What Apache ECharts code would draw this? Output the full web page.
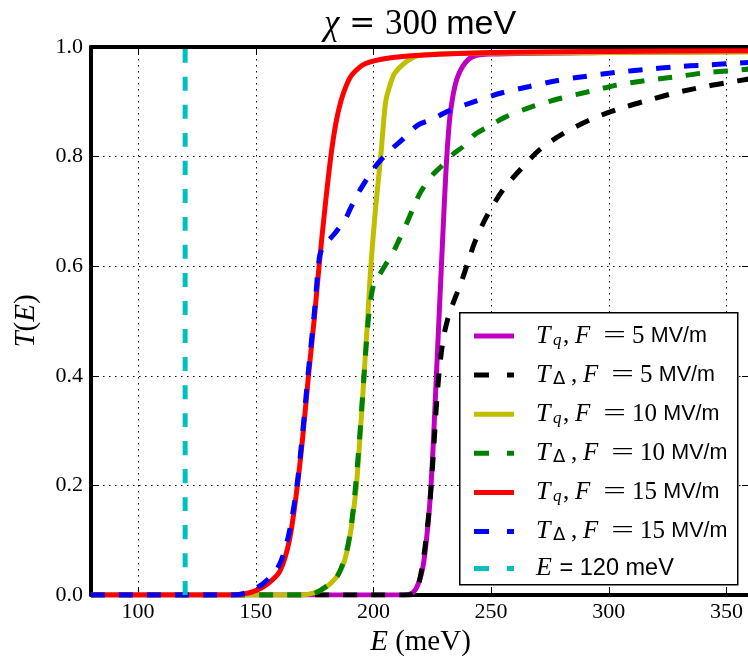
<!DOCTYPE html>
<html><head><meta charset="utf-8">
<script src="https://cdn.jsdelivr.net/npm/echarts@6/dist/echarts.min.js"></script>
<style>html,body{margin:0;padding:0;background:#fff}#c{width:748px;height:656px}</style>
</head><body><div id="c"></div>
<script>
// ---- data ----
const xTicks = [100, 150, 200, 250, 300, 350];
const yTicks = [0.0, 0.2, 0.4, 0.6, 0.8, 1.0];

const seriesNames = ['Tq5', 'Td5', 'Tq10', 'Td10', 'Tq15', 'Td15', 'E120'];

const tqF5E = [80, 210, 215, 217, 219, 221, 222.5, 224, 225.3, 226.7, 228.1, 229.5, 230.9, 232, 233, 235, 238, 242, 250, 300, 360];
const tqF5T = [0, 0, 0.001, 0.005, 0.02, 0.05, 0.1, 0.17, 0.265, 0.396, 0.527, 0.658, 0.78, 0.85, 0.89, 0.935, 0.965, 0.982, 0.987, 0.99, 0.992];

const tdF5E = [80, 215, 218, 220, 222, 224, 225.5, 227, 228.5, 230, 232, 234.5, 237, 240, 243, 248, 255, 263, 271, 281, 293, 305, 316, 328, 341, 352, 360];
const tdF5T = [0, 0, 0.005, 0.035, 0.09, 0.17, 0.26, 0.36, 0.43, 0.475, 0.51, 0.54, 0.567, 0.605, 0.643, 0.69, 0.739, 0.779, 0.814, 0.843, 0.869, 0.888, 0.902, 0.916, 0.928, 0.936, 0.942];

const tqF10E = [80, 170, 173, 176, 179, 182, 185, 187.5, 189, 190.5, 192, 192.8, 194.5, 196, 197.5, 198.9, 201, 203.1, 205.2, 207, 209, 213, 218, 225, 250, 300, 360];
const tqF10T = [0, 0, 0.002, 0.006, 0.012, 0.022, 0.037, 0.06, 0.085, 0.12, 0.17, 0.2, 0.3, 0.4, 0.5, 0.6, 0.71, 0.8, 0.9, 0.93, 0.952, 0.97, 0.983, 0.987, 0.989, 0.99, 0.991];

const tdF10E = [80, 172, 175, 178, 182, 185, 188, 190, 192, 194, 196, 198, 200, 202.4, 205.2, 208, 210.9, 213.7, 217.3, 220, 225, 229, 234, 238, 243, 249, 256, 268, 280, 292, 304, 316, 329, 341, 353, 360];
const tdF10T = [0, 0, 0.003, 0.01, 0.022, 0.037, 0.07, 0.11, 0.18, 0.28, 0.4, 0.51, 0.565, 0.583, 0.603, 0.622, 0.648, 0.674, 0.71, 0.735, 0.766, 0.783, 0.805, 0.818, 0.84, 0.855, 0.872, 0.892, 0.907, 0.919, 0.931, 0.939, 0.946, 0.953, 0.957, 0.96];

const tqF15E = [80, 140, 145, 150, 155, 160.2, 164.3, 167.7, 170, 172.4, 175, 176.9, 179.5, 181.9, 184, 186.1, 188.5, 191, 196.7, 206.7, 220, 250, 300, 360];
const tqF15T = [0, 0, 0.002, 0.008, 0.02, 0.043, 0.1, 0.2, 0.29, 0.4, 0.51, 0.6, 0.71, 0.8, 0.86, 0.9, 0.93, 0.95, 0.97, 0.98, 0.985, 0.99, 0.992, 0.993];

const tdF15E = [80, 140, 145, 150, 155, 160, 164, 167.5, 170, 172.4, 175, 177, 178.5, 180.5, 184, 188.2, 190.4, 193.9, 200.3, 204.5, 208.8, 212.3, 218.7, 225, 231.3, 242.6, 254.3, 266.3, 278.4, 291, 303.8, 315.8, 328.5, 340.5, 352.5, 360];
const tdF15T = [0, 0, 0.003, 0.012, 0.028, 0.055, 0.11, 0.2, 0.3, 0.41, 0.52, 0.615, 0.635, 0.645, 0.662, 0.687, 0.707, 0.736, 0.779, 0.8, 0.818, 0.831, 0.857, 0.868, 0.882, 0.9, 0.916, 0.928, 0.939, 0.947, 0.954, 0.959, 0.964, 0.967, 0.97, 0.972];

const e120E = [120, 120];
const e120T = [0, 1];

const legendTexts = {
  Tq5: '{g|}{i|T}{subi|q}{c|,}{i2|F}{eq|=}{r|5 }{s|MV/m}',
  Td5: '{g|}{i|T}{sub|Δ}{c|,}{i2|F}{eq|=}{r|5 }{s|MV/m}',
  Tq10: '{g|}{i|T}{subi|q}{c|,}{i2|F}{eq|=}{r|10 }{s|MV/m}',
  Td10: '{g|}{i|T}{sub|Δ}{c|,}{i2|F}{eq|=}{r|10 }{s|MV/m}',
  Tq15: '{g|}{i|T}{subi|q}{c|,}{i2|F}{eq|=}{r|15 }{s|MV/m}',
  Td15: '{g|}{i|T}{sub|Δ}{c|,}{i2|F}{eq|=}{r|15 }{s|MV/m}',
  E120: '{g|}{i|E}{s2| = 120 meV}'
};

// ---- chart ----
const pair = (xs, ys) => xs.map((x, i) => [x, ys[i]]);
const SERIF = 'Liberation Serif';
const SANS = 'Liberation Sans';
const SOLID_ICON = 'path://M0,0H40V5H0Z';
const DASH_ICON = 'path://M0,0H15V5H0Z M33,0H40V5H33Z';

function mk(name, xs, ys, color, dashed) {
  return {
    name, type: 'line', data: pair(xs, ys), symbol: 'none',
    smooth: 0.3,
    lineStyle: { color, width: 5, type: dashed ? [14, 14] : 'solid', cap: 'butt' },
    itemStyle: { color },
    emphasis: { disabled: true }, animation: false
  };
}
const dashedSet = { Td5: 1, Td10: 1, Td15: 1, E120: 1 };

const chart = echarts.init(document.getElementById('c'), null, { renderer: 'canvas' });
const tickStyle = { show: true, inside: true, length: 8, lineStyle: { color: '#000', width: 1 } };
const frame = { show: true, onZero: false, lineStyle: { color: '#000', width: 4 } };
const grid = { show: true, lineStyle: { color: '#000', width: 1, type: [1.5, 4.5] } };
const nameRich = {
  i: { fontFamily: SERIF, fontStyle: 'italic', fontSize: 29, color: '#000' },
  r: { fontFamily: SERIF, fontSize: 29, color: '#000' }
};
const LH = 26;
const tok = (o) => Object.assign({ lineHeight: LH, color: '#000', align: 'left' }, o);

chart.setOption({
  animation: false,
  backgroundColor: '#fff',
  grid: { left: 91, top: 47, width: 659, height: 548, containLabel: false, outerBoundsMode: 'none' },
  xAxis: [
    { type: 'value', min: 80, max: 360, splitNumber: 5, position: 'bottom',
      axisLine: frame, axisTick: tickStyle, splitLine: grid,
      axisLabel: { color: '#000', fontFamily: SERIF, fontSize: 22, margin: 6, showMinLabel: false, showMaxLabel: false },
      name: '{i|E}{r| (meV)}', nameLocation: 'middle', nameGap: 20,
      nameTextStyle: { rich: nameRich } },
    { type: 'value', min: 80, max: 360, splitNumber: 5, position: 'top',
      axisLine: frame, axisTick: tickStyle, splitLine: { show: false }, axisLabel: { show: false } }
  ],
  yAxis: [
    { type: 'value', min: 0, max: 1, interval: 0.2, position: 'left',
      axisLine: frame, axisTick: tickStyle, splitLine: grid,
      axisLabel: { color: '#000', fontFamily: SERIF, fontSize: 22, margin: 8, formatter: v => v.toFixed(1) },
      name: '{i|T}{r|(}{i|E}{r|)}', nameLocation: 'middle', nameGap: 50, nameRotate: 90,
      nameTextStyle: { rich: nameRich } },
    { type: 'value', min: 0, max: 1, interval: 0.2, position: 'right',
      axisLine: frame, axisTick: tickStyle, splitLine: { show: false }, axisLabel: { show: false } }
  ],
  legend: {
    orient: 'vertical', left: 474, top: 321, padding: 0,
    itemWidth: 40, itemHeight: 5, itemGap: 9.1,
    data: seriesNames.map(n => ({ name: n, icon: dashedSet[n] ? DASH_ICON : SOLID_ICON })),
    formatter: n => legendTexts[n],
    selectedMode: false,
    textStyle: {
      color: '#000',
      rich: {
        g: tok({ width: 17 }),
        i: tok({ fontFamily: SERIF, fontStyle: 'italic', fontSize: 26, width: 17 }),
        i2: tok({ fontFamily: SERIF, fontStyle: 'italic', fontSize: 25, width: 27 }),
        c: tok({ fontFamily: SERIF, fontSize: 25, width: 12 }),
        r: tok({ fontFamily: SERIF, fontSize: 25 }),
        eq: tok({ fontFamily: 'DejaVu Sans', fontWeight: 200, fontSize: 30, width: 30 }),
        s: tok({ fontFamily: SANS, fontSize: 21.5 }),
        s2: tok({ fontFamily: SANS, fontSize: 23.5 }),
        subi: tok({ fontFamily: SERIF, fontStyle: 'italic', fontSize: 17, lineHeight: 14, verticalAlign: 'bottom', width: 10 }),
        sub: tok({ fontFamily: 'DejaVu Sans', fontSize: 18, lineHeight: 15, verticalAlign: 'bottom', width: 18 })
      }
    },
    z: 6
  },
  graphic: [
    { type: 'rect', left: 459, top: 312, shape: { width: 278, height: 272 },
      style: { fill: '#fff', stroke: '#000', lineWidth: 1.5 }, z: 5 },
    { type: 'text', x: 420, y: 25, z: 6,
      style: { text: '{a|χ}{eq| = }{b|300 }{c|meV}', align: 'center', verticalAlign: 'middle',
        rich: { a: { fontFamily: SERIF, fontStyle: 'italic', fontSize: 35, fill: '#000' },
                eq: { fontFamily: 'DejaVu Serif', fontSize: 31, fill: '#000' },
                b: { fontFamily: SERIF, fontSize: 35, fill: '#000' },
                c: { fontFamily: SANS, fontSize: 34, fill: '#000' } } } }
  ],
  series: [
    mk('Tq5', tqF5E, tqF5T, '#bf00bf', false),
    mk('Td5', tdF5E, tdF5T, '#000000', true),
    mk('Tq10', tqF10E, tqF10T, '#bfbf00', false),
    mk('Td10', tdF10E, tdF10T, '#008000', true),
    mk('Tq15', tqF15E, tqF15T, '#ff0000', false),
    mk('Td15', tdF15E, tdF15T, '#0000ff', true),
    mk('E120', e120E, e120T, '#00bfbf', true)
  ]
});
</script></body></html>
